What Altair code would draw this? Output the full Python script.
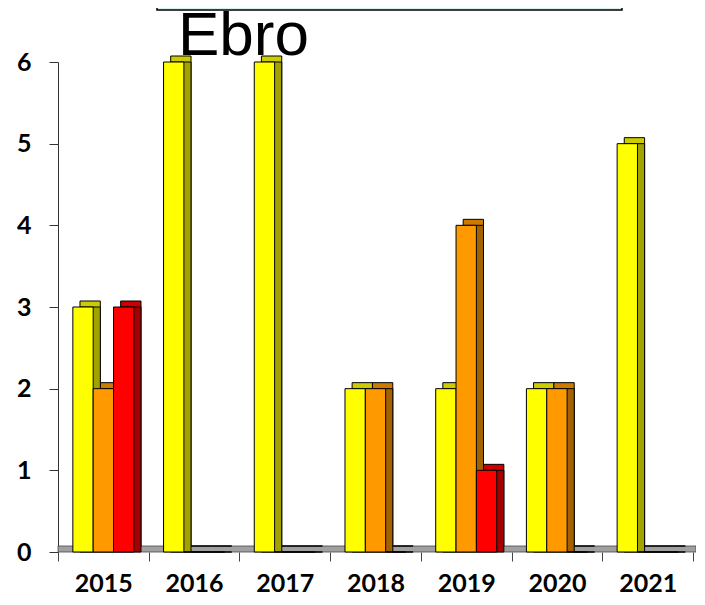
import altair as alt
import pandas as pd

years = ["2015", "2016", "2017", "2018", "2019", "2020", "2021"]
series = ["Amarillo", "Naranja", "Rojo"]
amarillo = [3, 6, 6, 2, 2, 2, 5]
naranja = [2, 0, 0, 2, 4, 2, 0]
rojo = [3, 0, 0, 0, 1, 0, 0]
y_ticks = [0, 1, 2, 3, 4, 5, 6]

front_colors = ["#FFFF00", "#FF9900", "#FF0000"]
top_colors = ["#CCCC00", "#CC7A00", "#CC0000"]
side_colors = ["#A3A300", "#A36200", "#A30000"]

rows = []
for i, yr in enumerate(years):
    for k, (s, vals) in enumerate(zip(series, [amarillo, naranja, rojo])):
        rows.append({"year": yr, "serie": s, "value": vals[i],
                     "front": front_colors[k], "top": top_colors[k], "side": side_colors[k]})
df = pd.DataFrame(rows)

W, H = 635, 490
DY = 6
PO = 0.73

xenc = alt.X("year:N", sort=years,
             scale=alt.Scale(paddingInner=0, paddingOuter=0),
             axis=alt.Axis(title=None, labelAngle=0, tickBand="extent", domain=False,
                           tickSize=9, tickColor="#444", labelFont="Lato", labelFontWeight="bold",
                           labelFontSize=25, labelColor="black", labelBaseline="alphabetic",
                           labelPadding=30))
yenc = alt.Y("value:Q", scale=alt.Scale(domain=[0, 6], nice=False),
             axis=alt.Axis(title=None, values=y_ticks, grid=False, tickSize=9,
                           tickColor="#333", domainColor="#333", labelFont="Lato",
                           labelFontWeight="bold", labelFontSize=25, labelColor="black",
                           labelPadding=18))


def xoff(align):
    return alt.XOffset("serie:N", sort=series,
                       scale=alt.Scale(domain=series, paddingOuter=PO, paddingInner=0, align=align))


base = alt.Chart(df).encode(x=xenc, y=yenc)

back = base.mark_bar(yOffset=-DY, y2Offset=0, stroke="black", strokeWidth=1).encode(
    xOffset=xoff(0.74), fill=alt.Fill("top:N", scale=None))
side = base.mark_bar(stroke="black", strokeWidth=1).encode(
    xOffset=xoff(0.74), fill=alt.Fill("side:N", scale=None))
front = base.mark_bar(stroke="black", strokeWidth=1).encode(
    xOffset=xoff(0.5), fill=alt.Fill("front:N", scale=None))

bars = alt.layer(back, side, front).resolve_scale(xOffset="independent")

one = pd.DataFrame({"t": ["Ebro"]})
floor = alt.Chart(one).mark_rect(fill="#A0A0A0", stroke="#444", strokeWidth=0.8).encode(
    x=alt.value(0), x2=alt.value(W + 3), y=alt.value(H - 6), y2=alt.value(H))
box = alt.Chart(one).mark_rect(fill="#D6F0F0", stroke="black", strokeWidth=1.5).encode(
    x=alt.value(99), x2=alt.value(564), y=alt.value(-70), y2=alt.value(-52))
title = alt.Chart(one).mark_text(align="left", baseline="alphabetic", fontSize=62,
                                 font="Liberation Sans", color="black").encode(
    x=alt.value(120), y=alt.value(-7), text="t:N")

chart = alt.layer(floor, bars, box, title).properties(
    width=W, height=H,
    padding={"left": 50, "top": 54, "right": 3, "bottom": 45},
    autosize=alt.AutoSizeParams(type="none"),
).configure_view(stroke=None)

chart.save("out.html", embed_options={"renderer": "svg", "actions": False})
